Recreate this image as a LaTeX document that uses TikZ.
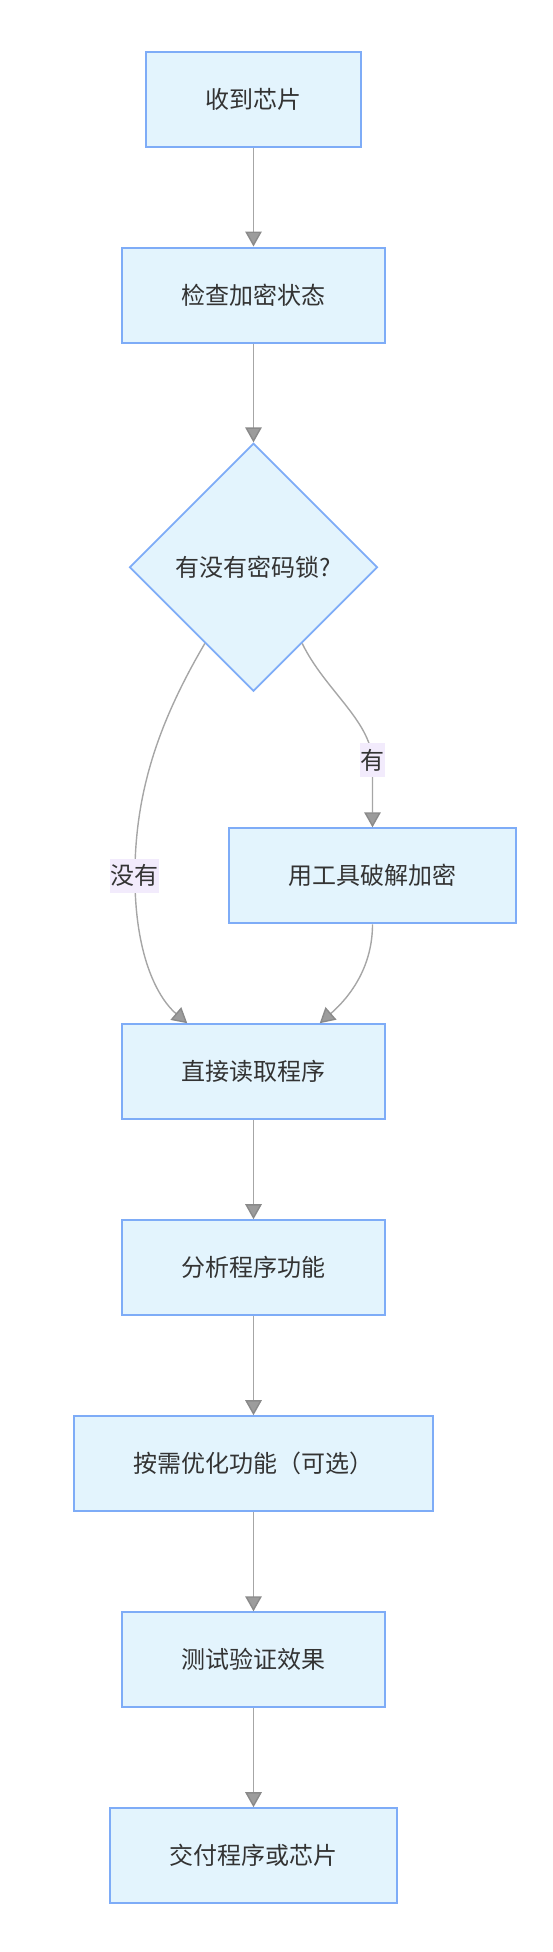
\documentclass[tikz,border=0pt]{standalone}
\usepackage{fontspec}
\setmainfont{Noto Sans CJK SC}
\usepackage{xcolor}
\usepackage{tikz}
\usetikzlibrary{shapes.geometric,arrows.meta,positioning,calc}

\definecolor{boxfill}{HTML}{E3F4FD}
\definecolor{boxline}{HTML}{7EACF7}
\definecolor{flowline}{HTML}{A6A6A6}
\definecolor{tipfill}{HTML}{9C9C9C}
\definecolor{tipline}{HTML}{8A8A8A}
\definecolor{labelfill}{HTML}{F2EBFC}
\definecolor{txt}{HTML}{333333}

\tikzset{
  stepbox/.style={draw=boxline, fill=boxfill, line width=2pt, minimum height=95pt, inner sep=0pt, text=txt},
  decision/.style={diamond, draw=boxline, fill=boxfill, line width=1.8pt, minimum width=248pt, minimum height=248pt, inner sep=0pt, text=txt},
  flow/.style={draw=flowline, line width=1.4pt, -{Triangle[length=15pt,width=16.5pt,color=tipline,fill=tipfill]}},
  edgelabel/.style={fill=labelfill, text=txt, inner xsep=0.5pt, inner ysep=6pt}
}

\begin{document}
\begin{tikzpicture}[x=1pt, y=1pt, every node/.style={font=\fontsize{24}{28}\selectfont}]
    \useasboundingbox (0,0) rectangle (552,-1952);

    % Steps
    \node[stepbox, minimum width=215pt] (recv) at (253.5,-99.2) {收到芯片};
    \node[stepbox, minimum width=263pt] (check) at (253.5,-295) {检查加密状态};
    \node[decision] (lock) at (253.5,-567.3) {有没有密码锁?};
    \node[stepbox, minimum width=287pt] (crack) at (372.5,-875.8) {用工具破解加密};
    \node[stepbox, minimum width=263pt] (read) at (253.5,-1071.7) {直接读取程序};
    \node[stepbox, minimum width=263pt] (analyze) at (253.5,-1267.7) {分析程序功能};
    \node[stepbox, minimum width=359pt] (optimize) at (253.5,-1463.7) {按需优化功能（可选）};
    \node[stepbox, minimum width=263pt] (test) at (253.5,-1659.8) {测试验证效果};
    \node[stepbox, minimum width=287pt] (deliver) at (253.5,-1855.7) {交付程序或芯片};

    % Straight arrows
    \foreach \a/\b in {recv/check, check/lock, read/analyze, analyze/optimize, optimize/test, test/deliver} {
        \draw[flow] (\a) -- (\b);
    }

    % Branches
    \coordinate (yesstart) at ($(lock.east)!0.61!(lock.south)$);
    \coordinate (nostart) at ($(lock.west)!0.61!(lock.south)$);
    \coordinate (readL) at ($(read.north west)!0.25!(read.north east)$);
    \coordinate (readR) at ($(read.north west)!0.75!(read.north east)$);

    \draw[flow] (yesstart) .. controls (325,-690) and (370,-720) .. (372.5,-760) node[edgelabel] (yes) {有} -- (crack.north);
    \draw[flow] (nostart) .. controls (160,-720) and (134.9,-790) .. (134.9,-875.7) node[edgelabel] (no) {没有}
        .. controls (134.9,-960) and (160,-1000) .. (readL);
    \draw[flow] (crack.south) .. controls (372.5,-965) and (352,-995) .. (readR);
\end{tikzpicture}
\end{document}
